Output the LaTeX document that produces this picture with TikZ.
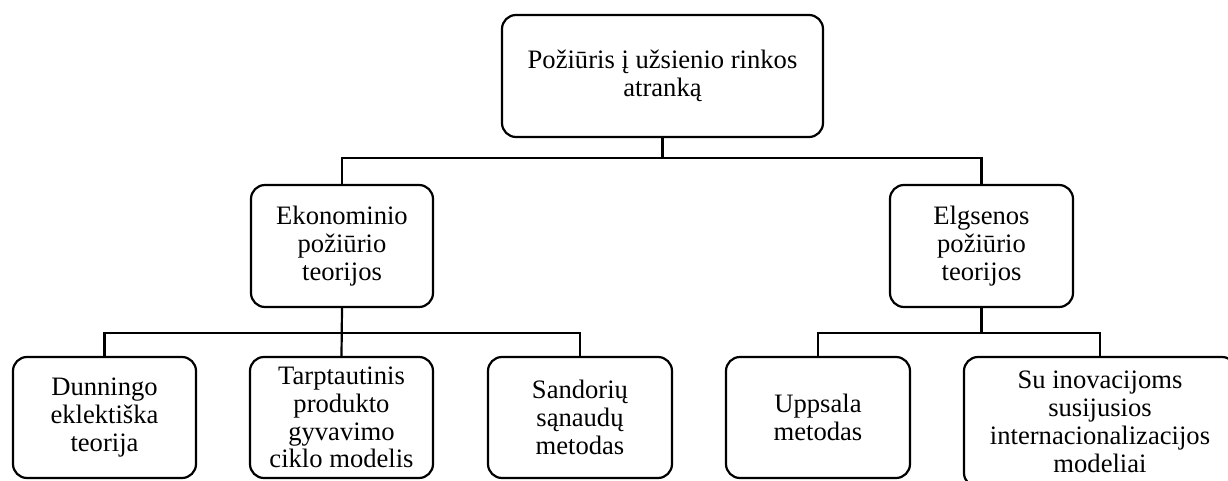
\documentclass[tikz,border=0pt]{standalone}
\usepackage{fontspec}
\setmainfont{Liberation Serif}
\begin{document}
\begin{tikzpicture}[x=0.5pt,y=-0.5pt,
  box/.style={draw=black, line width=1.1pt, rounded corners=7pt, align=center,
    inner sep=0pt, font=\fontsize{13.3}{13.9}\selectfont, fill=white},
  conn/.style={draw=black, line width=1.1pt}]
\useasboundingbox (0,0) rectangle (1228,481);
\clip (0,0) rectangle (1228,481);
\node[box, minimum width=160.5pt, minimum height=61pt] (top) at (662.5,76) {Požiūris į užsienio rinkos\\atranką};
\node[box, minimum width=91pt, minimum height=61pt] (ekon) at (342,246) {Ekonominio\\požiūrio\\teorijos};
\node[box, minimum width=91.5pt, minimum height=61pt] (elg) at (981.5,246) {Elgsenos\\požiūrio\\teorijos};
\node[box, minimum width=91.5pt, minimum height=60.5pt] (dun) at (104.5,417.5) {Dunningo\\eklektiška\\teorija};
\node[box, minimum width=91.5pt, minimum height=60.5pt] (tarp) at (341.5,417.5) {Tarptautinis\\produkto\\gyvavimo\\ciklo modelis};
\node[box, minimum width=92pt, minimum height=60.5pt] (sand) at (580,417.5) {Sandorių\\sąnaudų\\metodas};
\node[box, minimum width=92pt, minimum height=60.5pt] (upp) at (818,417.5) {Uppsala\\metodas};
\node[box, minimum width=136pt, minimum height=65pt] (su) at (1100,422) {Su inovacijoms\\susijusios\\internacionalizacijos\\modeliai};
\draw[conn] (top.south) -- ++(0,20) -| (ekon.north);
\draw[conn] (top.south) -- ++(0,20) -| (elg.north);
\draw[conn] (ekon.south) -- ++(0,25) -| (dun.north);
\draw[conn] (ekon.south) -- (tarp.north);
\draw[conn] (ekon.south) -- ++(0,25) -| (sand.north);
\draw[conn] (elg.south) -- ++(0,25) -| (upp.north);
\draw[conn] (elg.south) -- ++(0,25) -| (su.north);
\end{tikzpicture}
\end{document}
